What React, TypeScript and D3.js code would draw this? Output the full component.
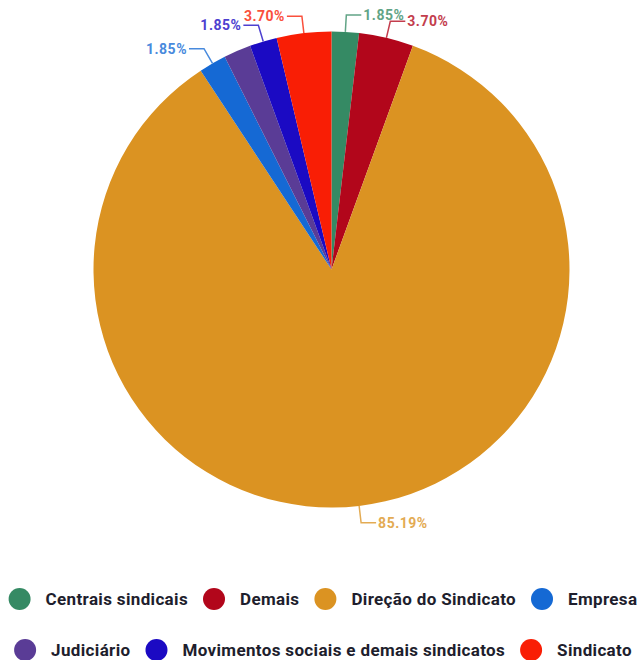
import React, { useEffect, useRef } from "react";
import * as d3 from "d3";

const categories = [
  "Centrais sindicais",
  "Demais",
  "Direção do Sindicato",
  "Empresa",
  "Judiciário",
  "Movimentos sociais e demais sindicatos",
  "Sindicato",
];
const values = [1, 2, 46, 1, 1, 1, 2];
const colors = ["#358a64", "#b2061b", "#db9322", "#1569d4", "#5a3c96", "#1b0ac3", "#f91e05"];
const showLabel = [true, true, true, true, false, true, true];
const legendRowSizes = [4, 3];

export default function App() {
  const ref = useRef<SVGSVGElement>(null);
  useEffect(() => {
    const svg = d3.select(ref.current);
    svg.selectAll("*").remove();
    const cx = 331.5, cy = 269.5, r = 238;
    const total = d3.sum(values);
    const pie = d3.pie<number>().sort(null).value((d) => d);
    const arcs = pie(values);
    const arc = d3.arc<any>().innerRadius(0).outerRadius(r);
    const g = svg.append("g").attr("transform", `translate(${cx},${cy})`);
    g.selectAll("path.slice")
      .data(arcs)
      .join("path")
      .attr("class", "slice")
      .attr("d", arc as any)
      .attr("fill", (_d, i) => colors[i]);

    arcs.forEach((a, i) => {
      if (!showLabel[i]) return;
      const m = (a.startAngle + a.endAngle) / 2;
      const p1 = [Math.sin(m) * r, -Math.cos(m) * r];
      const p2 = [Math.sin(m) * (r + 17), -Math.cos(m) * (r + 17)];
      const dir = Math.sin(m) >= 0 ? 1 : -1;
      const p3 = [p2[0] + dir * 15, p2[1]];
      const c = d3.interpolateRgb(colors[i], "#ffffff")(0.22);
      g.append("polyline")
        .attr("points", [p1, p2, p3].map((p) => p.join(",")).join(" "))
        .attr("fill", "none")
        .attr("stroke", c)
        .attr("stroke-width", 1.5);
      g.append("text")
        .attr("x", p3[0] + dir * 2)
        .attr("y", p3[1])
        .attr("dy", "0.35em")
        .attr("text-anchor", dir > 0 ? "start" : "end")
        .attr("font-family", "Roboto, sans-serif")
        .attr("font-weight", 700)
        .attr("font-size", 14)
        .attr("letter-spacing", 0.5)
        .attr("fill", c)
        .text(((values[i] / total) * 100).toFixed(2) + "%");
    });

    // legend
    const rowY = [599, 650];
    const centerX = 323;
    const cr = 11;
    const gapCT = 15;
    const gapItem = 15;
    let idx = 0;
    legendRowSizes.forEach((n, row) => {
      const items = d3.range(idx, idx + n);
      idx += n;
      const lg = svg.append("g");
      const widths: number[] = [];
      const texts = items.map((k) => {
        const t = lg
          .append("text")
          .attr("font-family", "Roboto, sans-serif")
          .attr("font-weight", 700)
          .attr("font-size", 17)
          .attr("letter-spacing", 0.35)
          .attr("fill", "#1e1e2d")
          .attr("dy", "0.35em")
          .attr("y", rowY[row])
          .text(categories[k]);
        widths.push((t.node() as SVGTextElement).getComputedTextLength());
        return t;
      });
      const totalW =
        d3.sum(widths) + n * (2 * cr + gapCT) + (n - 1) * gapItem;
      let x = centerX - totalW / 2;
      items.forEach((k, j) => {
        lg.append("circle")
          .attr("cx", x + cr)
          .attr("cy", rowY[row])
          .attr("r", cr)
          .attr("fill", colors[k]);
        x += 2 * cr + gapCT;
        texts[j].attr("x", x);
        x += widths[j] + gapItem;
      });
    });
  }, []);
  return (
    <svg
      ref={ref}
      width={639}
      height={660}
      style={{ position: "absolute", left: 0, top: 0, background: "#fff" }}
    />
  );
}
